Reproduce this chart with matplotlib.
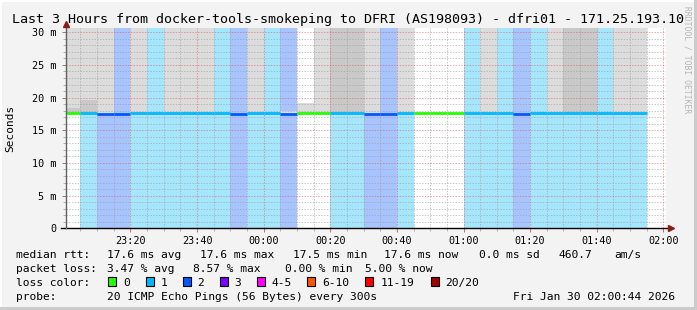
"""Smokeping-style 3 hour latency graph: smoke, loss background and loss-coloured median."""

import matplotlib

matplotlib.use("Agg")
import matplotlib.pyplot as plt
import numpy as np
from matplotlib.patches import Rectangle

W, H = 697, 310
FONT = "DejaVu Sans Mono"
YMAX = 30.6

TITLE = "Last 3 Hours from docker-tools-smokeping to DFRI (AS198093) - dfri01 - 171.25.193.10"

# 5-minute polling slots (start time of each slot)
SLOT_TIMES = [
    "23:00", "23:05", "23:10", "23:15", "23:20", "23:25", "23:30", "23:35", "23:40",
    "23:45", "23:50", "23:55", "00:00", "00:05", "00:10", "00:15", "00:20", "00:25",
    "00:30", "00:35", "00:40", "00:45", "00:50", "00:55", "01:00", "01:05", "01:10",
    "01:15", "01:20", "01:25", "01:30", "01:35", "01:40", "01:45", "01:50", "01:55",
]
# median rtt in ms (nan = no data)
MEDIAN_MS = [
    17.6, 17.6, 17.5, 17.5, 17.6, 17.6, 17.6, 17.6, 17.6,
    17.6, 17.5, 17.6, 17.6, 17.5, 17.6, 17.6, 17.6, 17.6,
    17.5, 17.5, 17.6, 17.6, 17.6, 17.6, 17.6, 17.6, 17.6,
    17.5, 17.6, 17.6, 17.6, 17.6, 17.6, 17.6, 17.6, np.nan,
]
# lost pings out of 20 (-1 = no data)
LOSS = [
    0, 1, 2, 2, 1, 1, 1, 1, 1,
    1, 2, 1, 1, 2, 0, 0, 1, 1,
    2, 2, 1, 0, 0, 0, 1, 1, 1,
    2, 1, 1, 1, 1, 1, 1, 1, -1,
]
# top of the light smoke (ms); values above 30.6 run off the graph
SMOKE_TOP_MS = [
    31, 31, 31, np.nan, 31, np.nan, 31, 31, 31,
    np.nan, np.nan, 31, np.nan, 17.9, 19.1, 31, 31, 31,
    31, np.nan, 31, np.nan, np.nan, np.nan, np.nan, 31, 18.0,
    np.nan, np.nan, 31, 31, 31, np.nan, 31, 31, np.nan,
]
# top of the dense (darker) smoke band above the median (ms)
SMOKE_DARK_TOP_MS = [
    18.4, 19.6, np.nan, np.nan, np.nan, np.nan, np.nan, np.nan, np.nan,
    np.nan, np.nan, np.nan, np.nan, np.nan, np.nan, np.nan, 31, 31,
    np.nan, np.nan, np.nan, np.nan, np.nan, np.nan, np.nan, np.nan, np.nan,
    np.nan, np.nan, np.nan, 31, 31, np.nan, np.nan, np.nan, np.nan,
]

X_TICK_LABELS = ["23:20", "23:40", "00:00", "00:20", "00:40", "01:00", "01:20", "01:40", "02:00"]
Y_TICKS = [0, 5, 10, 15, 20, 25, 30]
Y_TICK_LABELS = ["0", "5 m", "10 m", "15 m", "20 m", "25 m", "30 m"]

LOSS_LABELS = ["0", "1", "2", "3", "4-5", "6-10", "11-19", "20/20"]
LOSS_COLORS = ["#26ff00", "#00b8ff", "#0059ff", "#7e00ff", "#ff00ff", "#ff5500", "#ff0000", "#a10000"]
LOSS_BG = {1: "#a6e6fd", 2: "#a8c4ff"}

SMOKE_LIGHT = "#dcdcdc"
SMOKE_DARK = "#c9c9c9"

LEGEND_SIZE = 8.1


def to_minutes(hhmm: str) -> float:
    h, m = (int(v) for v in hhmm.split(":"))
    return float((h * 60 + m - 23 * 60) % 1440)


def fx(px: float) -> float:
    return px / W


def fy(py: float) -> float:
    return 1 - py / H


def draw_graph(ax) -> None:
    starts = np.array([to_minutes(t) for t in SLOT_TIMES])
    median = np.array(MEDIAN_MS, dtype=float)
    loss = np.array(LOSS)
    top = np.array(SMOKE_TOP_MS, dtype=float)
    dark = np.array(SMOKE_DARK_TOP_MS, dtype=float)

    # loss background, full height
    for lvl, col in LOSS_BG.items():
        m = loss == lvl
        ax.bar(starts[m], YMAX + 5, width=5, align="edge", color=col,
               linewidth=0, antialiased=False, zorder=1)

    m = ~np.isnan(top)
    ax.bar(starts[m], top[m] - median[m], bottom=median[m], width=5, align="edge",
           color=SMOKE_LIGHT, linewidth=0, antialiased=False, zorder=1.2)
    m = ~np.isnan(dark)
    ax.bar(starts[m], dark[m] - median[m], bottom=median[m], width=5, align="edge",
           color=SMOKE_DARK, linewidth=0, antialiased=False, zorder=1.3)

    m = loss >= 0
    ax.hlines(median[m], starts[m], starts[m] + 5,
              colors=[LOSS_COLORS[v] for v in loss[m]], linewidth=2.0,
              capstyle="butt", zorder=3)

    ax.set_xlim(0.73, 180.73)
    ax.set_ylim(0, YMAX)

    ax.set_xticks([to_minutes(t) for t in X_TICK_LABELS])
    ax.set_xticklabels(X_TICK_LABELS)
    ax.set_xticks([v for v in np.arange(5, 181, 5) if v % 20], minor=True)
    ax.set_yticks(Y_TICKS)
    ax.set_yticklabels(Y_TICK_LABELS)
    ax.set_yticks([v for v in range(1, 31) if v % 5], minor=True)

    ax.set_axisbelow(False)
    ax.grid(which="minor", color="#9a9a9a", alpha=0.55, linestyle=(0, (1.4, 1.4)), linewidth=0.72)
    ax.grid(which="major", color="#e04040", alpha=0.45, linestyle=(0, (1.4, 1.4)), linewidth=0.72)

    for s in ax.spines.values():
        s.set_visible(False)
    ax.tick_params(axis="y", which="major", length=3, width=0.7, color="#808080",
                   pad=4.2, labelsize=7.3)
    ax.tick_params(axis="y", which="minor", length=2, width=0.7, color="#b0b0b0")
    ax.tick_params(axis="x", which="major", length=3, width=0.7, color="#e06060",
                   pad=2.5, labelsize=7.3)
    ax.tick_params(axis="x", which="minor", length=2, width=0.7, color="#b0b0b0")
    for lab in ax.get_xticklabels() + ax.get_yticklabels():
        lab.set_fontfamily(FONT)

    # axis lines with arrow heads
    ax.plot([-0.008, 1.006], [0, 0], transform=ax.transAxes, color="black",
            linewidth=1.0, clip_on=False, zorder=5)
    ax.plot([1.008], [0], marker=">", markersize=5, color="#8b1a1a",
            transform=ax.transAxes, clip_on=False, zorder=6)
    ax.plot([0, 0], [0, 1.015], transform=ax.transAxes, color="#606060",
            linewidth=1.0, clip_on=False, zorder=5)
    ax.plot([0], [1.022], marker="^", markersize=5, color="#8b1a1a",
            transform=ax.transAxes, clip_on=False, zorder=6)


def draw_legend(fig) -> None:
    rows = [
        (258.3, [("median rtt:", 16), ("17.6 ms avg", 107.3), ("17.6 ms max", 200.3),
                 ("17.5 ms min", 292.7), ("17.6 ms now", 384.3), ("0.0 ms sd", 479.3),
                 ("460.7", 558.3), ("am/s", 614)]),
        (272.0, [("packet loss:", 16), ("3.47 % avg", 107.3), ("8.57 % max", 193.3),
                 ("0.00 % min", 285.0), ("5.00 % now", 365.3)]),
        (286.0, [("loss color:", 16)]),
        (299.7, [("probe:", 16), ("20 ICMP Echo Pings (56 Bytes) every 300s", 107.3),
                 ("Fri Jan 30 02:00:44 2026", 513.3)]),
    ]
    for base, items in rows:
        for text, x in items:
            fig.text(fx(x), fy(base), text, fontsize=LEGEND_SIZE, family=FONT, va="baseline")

    box_x = [108.3, 145.7, 182.7, 219.7, 256.7, 307.3, 365.3, 430.7]
    lab_x = [123.3, 160.7, 197.3, 234.3, 271.0, 322.0, 380.7, 445.3]
    for bx, lx, lab, col in zip(box_x, lab_x, LOSS_LABELS, LOSS_COLORS):
        fig.patches.append(Rectangle((fx(bx), fy(286)), 8 / W, 9 / H, facecolor=col,
                                     edgecolor="black", linewidth=0.8,
                                     transform=fig.transFigure, figure=fig))
        fig.text(fx(lx), fy(286), lab, fontsize=LEGEND_SIZE, family=FONT, va="baseline")


def main() -> None:
    fig = plt.figure(figsize=(W / 100, H / 100), dpi=100, facecolor="#f3f3f3")

    # frame: light top/left, shadow bottom/right
    for (x, y, w, h, c) in [
        (0, 0, W, 1.5, "#ffffff"), (0, 0, 1.5, H, "#ffffff"),
        (W - 3, 0, 3, H, "#cbcbcb"), (0, H - 3, W, 3, "#cbcbcb"),
    ]:
        fig.patches.append(Rectangle((fx(x), fy(y + h)), w / W, h / H, facecolor=c,
                                     linewidth=0, transform=fig.transFigure, figure=fig))

    ax = fig.add_axes([fx(66.2), fy(228.3), 599.6 / W, 200 / H])
    ax.set_facecolor("white")
    draw_graph(ax)

    fig.text(0.5, fy(19), TITLE, fontsize=9.6, family=FONT, ha="center", va="center")
    fig.text(fx(10), fy(128), "Seconds", fontsize=8.0, family=FONT, rotation=90,
             ha="center", va="center")
    fig.text(fx(687.5), fy(60), "RRDTOOL / TOBI OETIKER", fontsize=5.8, family=FONT,
             rotation=270, color="#b4b4b4", ha="center", va="center")

    draw_legend(fig)
    fig.savefig("out.png", dpi=100, facecolor=fig.get_facecolor())
    plt.close(fig)


if __name__ == "__main__":
    main()
